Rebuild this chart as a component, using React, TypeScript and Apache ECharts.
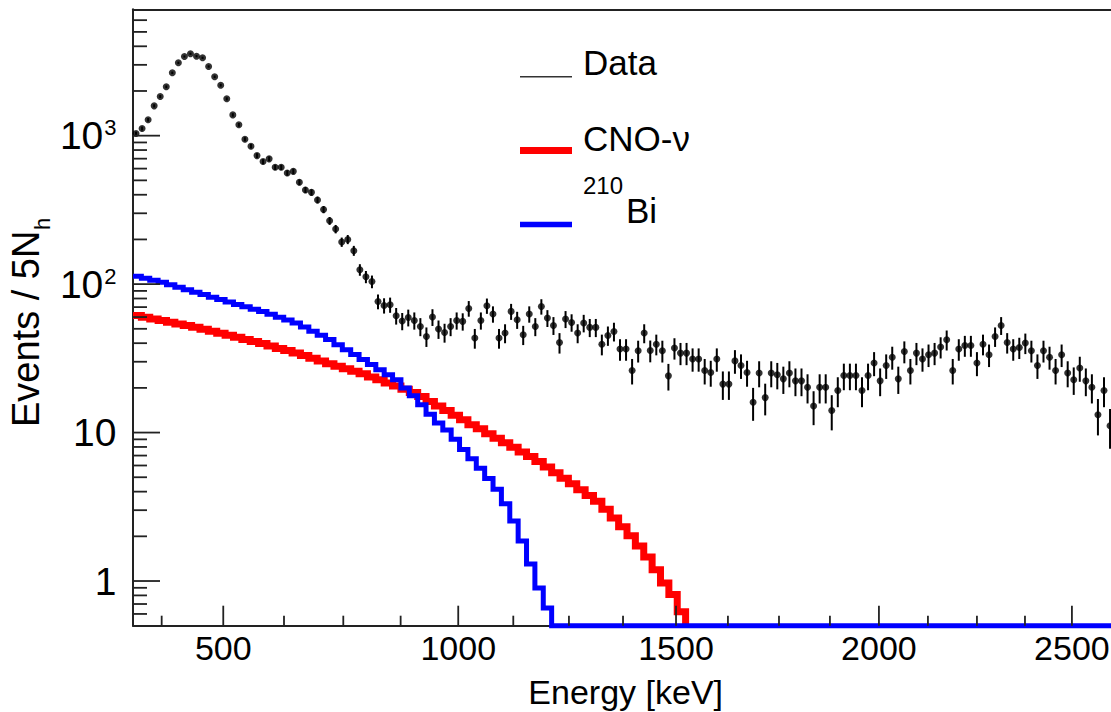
import React, { useEffect, useRef } from "react";
import * as echarts from "echarts";

const FONT = "'Liberation Sans', Arial, Helvetica, sans-serif";

// x axis: N_h (hits), histogram bins of 5 N_h; energy labels placed at their N_h positions
const NH_MIN = 92;
const NH_MAX = 900.3;
const DATA_BIN = 5;
const MODEL_BIN = 6.92;

const Y_MIN = 0.5;
const Y_MAX = 7100;

// Data: Events / 5 N_h (one value per bin, left to right)
const dataCounts = [
  1033, 1117, 1279, 1588, 1835, 2134, 2651, 3097, 3414, 3562,
  3430, 3347, 2924, 2493, 2188, 1771, 1380, 1183, 946, 849,
  734, 669, 698, 612, 612, 561, 575, 485, 431, 415,
  369, 318, 267, 235, 192, 200, 168, 125, 112, 104,
  76.4, 71.8, 72.6, 61.2, 56.4, 59.6, 56.9, 51.8, 44.4, 60,
  49.8, 47.2, 51.8, 56.9, 56.1, 68.6, 43.3, 56.9, 71.5, 62.9,
  43.3, 46.8, 65.5, 57.5, 45.6, 62.9, 51.8, 70.7, 59.1, 52.7,
  40.4, 58.2, 55.2, 46.8, 54.7, 51.1, 51.1, 39.4, 45.1, 48,
  36.5, 36.5, 26.2, 35.6, 46.8, 35.7, 39.4, 35.6, 24.1, 37.1,
  34.3, 34.3, 31.3, 31.3, 26.2, 25.4, 31.3, 21.2, 21.2, 30.4,
  28.3, 25.4, 16.0, 25.2, 17.2, 25.2, 24.5, 23.0, 25.2, 22.3,
  22.3, 20.2, 15.1, 20.2, 20.2, 14.1, 19.2, 24.2, 24.2, 24.2,
  19.2, 24.2, 29.4, 22.3, 28.3, 32.2, 23.0, 35.2, 26.2, 34.3,
  31.3, 33.4, 34.3, 37.7, 42.2, 26.2, 36.5, 38.6, 38.6, 29.4,
  39.4, 33.4, 44.4, 52.7, 40.4, 36.5, 37.4, 40.1, 35.6, 28.3,
  35.6, 32.2, 26.2, 33.4, 25.2, 22.7, 27.2, 22.3, 20.2, 13.2,
  19.2, 11.1,
];

// CNO-nu model histogram
const cnoValues = [
  61.4, 59.8, 58.3, 56.8, 55.4, 53.9, 52.6, 51.2, 49.6, 48.1,
  46.7, 45.2, 43.8, 42.4, 41.0, 39.8, 38.3, 36.9, 35.7, 34.4,
  33.0, 31.7, 30.4, 29.1, 28.0, 26.9, 25.9, 24.9, 23.7, 22.7,
  21.6, 20.6, 19.6, 18.6, 17.5, 16.2, 15.1, 14.1, 13.1, 12.2,
  11.3, 10.6, 9.8, 9.15, 8.54, 7.96, 7.41, 6.91, 6.38, 5.86,
  5.37, 4.93, 4.52, 4.12, 3.77, 3.44, 3.04, 2.66, 2.32, 2.02,
  1.72, 1.45, 1.19, 0.97, 0.81, 0.62,
];

// 210Bi model histogram
const biValues = [
  112.9, 109.4, 106.3, 103.0, 99.2, 95.4, 91.8, 88.3, 85.0, 81.7,
  78.7, 75.7, 73.0, 70.3, 67.7, 65.4, 62.6, 59.8, 57.3, 54.8,
  51.4, 48.2, 45.2, 42.3, 39.1, 36.2, 33.5, 31.0, 28.7, 26.5,
  24.5, 22.7, 20.0, 17.7, 15.4, 13.3, 11.6, 10.4, 9.0, 7.7,
  6.65, 5.74, 4.90, 4.15, 3.31, 2.54, 1.86, 1.30, 0.897, 0.658,
];

// Energy ticks (keV) and their N_h positions
const xTickEnergies = [375, 500, 625, 750, 875, 1000, 1125, 1250, 1375, 1500, 1625, 1750, 1875, 2000, 2125, 2250, 2375, 2500];
const xTickNh = [115.7, 166.6, 216.8, 265.8, 313.2, 360.8, 406.3, 452.3, 497, 540.8, 583.7, 625.9, 668, 708.5, 749, 789.5, 829.2, 868];
const xTickLabels = ["", "500", "", "", "", "1000", "", "", "", "1500", "", "", "", "2000", "", "", "", "2500"];

const yMajorTicks = [1, 10, 100, 1000];
const yMinorTicks = [
  0.6, 0.7, 0.8, 0.9,
  2, 3, 4, 5, 6, 7, 8, 9,
  20, 30, 40, 50, 60, 70, 80, 90,
  200, 300, 400, 500, 600, 700, 800, 900,
  2000, 3000, 4000, 5000, 6000,
];

const legendNames = ["Data", "CNO-\u03bd", "Bi"];

export default function App() {
  const ref = useRef<HTMLDivElement>(null);

  useEffect(() => {
    const chart = echarts.init(ref.current as HTMLDivElement, null, { renderer: "svg" });

    const dataPts = dataCounts.map((v, i) => [NH_MIN + DATA_BIN * (i + 0.5), v]);
    const errPts = dataCounts.map((v, i) => [
      NH_MIN + DATA_BIN * (i + 0.5),
      v,
      v - Math.sqrt(v),
      v + Math.sqrt(v),
    ]);
    const stepPts = (vals: number[], tail: boolean) => {
      const pts = vals.map((v, k) => [NH_MIN + k * MODEL_BIN, v]);
      pts.push([NH_MIN + vals.length * MODEL_BIN, Y_MIN]);
      if (tail) pts.push([NH_MAX, Y_MIN]);
      return pts;
    };

    const xTickData = xTickNh.map((nh, i) => [nh, Y_MIN, xTickLabels[i] ? 1 : 0, xTickEnergies[i]]);
    const yTickData = [
      ...yMajorTicks.map((v) => [NH_MIN, v, 1]),
      ...yMinorTicks.map((v) => [NH_MIN, v, 0]),
    ];

    const txt = (size: number) => ({ fontSize: size, fontFamily: FONT, fill: "#000" });
    const frameLine = { show: true, lineStyle: { color: "#222", width: 2 } };

    const option: any = {
      animation: false,
      backgroundColor: "#ffffff",
      grid: {
        left: 133,
        right: 0,
        top: 9.3,
        bottom: 86.3,
        show: false,
      },
      xAxis: [
        {
          type: "value",
          position: "bottom",
          min: NH_MIN,
          max: NH_MAX,
          axisLine: frameLine,
          axisTick: { show: false },
          axisLabel: { show: false },
          splitLine: { show: false },
        },
        {
          type: "value",
          position: "top",
          min: NH_MIN,
          max: NH_MAX,
          axisLine: frameLine,
          axisTick: { show: false },
          axisLabel: { show: false },
          splitLine: { show: false },
        },
      ],
      yAxis: {
        type: "log",
        logBase: 10,
        min: Y_MIN,
        max: Y_MAX,
        axisLine: frameLine,
        axisTick: { show: false },
        splitLine: { show: false },
        minorTick: { show: false },
        axisLabel: {
          margin: 16.5,
          showMinLabel: false,
          showMaxLabel: false,
          formatter: (v: number) => {
            const l = Math.log10(v);
            const e = Math.round(l);
            if (Math.abs(l - e) > 1e-6) return "";
            if (e === 0) return "{b|1}";
            if (e === 1) return "{b|10}";
            return "{b|10}{s|" + e + "}";
          },
          rich: {
            b: { fontSize: 39, fontFamily: FONT, color: "#000", lineHeight: 42 },
            s: { fontSize: 22, fontFamily: FONT, color: "#000", lineHeight: 42, verticalAlign: "top", padding: [2, 0, 0, 1] },
          },
        },
      },
      series: [
        {
          name: "CNO",
          type: "line",
          step: "end",
          data: stepPts(cnoValues, false),
          showSymbol: false,
          symbol: "none",
          clip: false,
          lineStyle: { color: "#ff0000", width: 7, join: "miter", cap: "butt" },
          z: 3,
          silent: true,
        },
        {
          name: "Bi",
          type: "line",
          step: "end",
          data: stepPts(biValues, true),
          showSymbol: false,
          symbol: "none",
          clip: false,
          lineStyle: { color: "#0000ff", width: 5, join: "miter", cap: "butt" },
          z: 4,
          silent: true,
        },
        {
          name: "errors",
          type: "custom",
          data: errPts,
          encode: { x: 0, y: 1 },
          clip: false,
          z: 5,
          silent: true,
          renderItem: (params: any, api: any) => {
            const x = api.value(0);
            const lo = api.coord([x, api.value(2)]);
            const hi = api.coord([x, api.value(3)]);
            return {
              type: "line",
              shape: { x1: lo[0], y1: lo[1], x2: hi[0], y2: hi[1] },
              style: { stroke: "#000", lineWidth: 2 },
            };
          },
        },
        {
          name: "Data",
          type: "scatter",
          data: dataPts,
          symbol: "circle",
          symbolSize: 7,
          itemStyle: { color: "#000" },
          z: 6,
          silent: true,
        },
        {
          name: "xticks",
          type: "custom",
          data: xTickData,
          encode: { x: 0, y: 1 },
          clip: false,
          z: 7,
          silent: true,
          renderItem: (params: any, api: any) => {
            const p = api.coord([api.value(0), Y_MIN]);
            const major = api.value(2) === 1;
            const len = major ? 20 : 10;
            const children: any[] = [
              {
                type: "line",
                shape: { x1: p[0], y1: p[1], x2: p[0], y2: p[1] - len },
                style: { stroke: "#222", lineWidth: 1.8 },
              },
            ];
            if (major) {
              children.push({
                type: "text",
                x: p[0],
                y: p[1] + 22.3,
                style: {
                  text: xTickLabels[params.dataIndex],
                  ...txt(34),
                  align: "center",
                  verticalAlign: "middle",
                },
              });
            }
            return { type: "group", children };
          },
        },
        {
          name: "yticks",
          type: "custom",
          data: yTickData,
          encode: { x: 0, y: 1 },
          clip: false,
          z: 7,
          silent: true,
          renderItem: (params: any, api: any) => {
            const p = api.coord([api.value(0), api.value(1)]);
            const len = api.value(2) === 1 ? 27 : 14;
            return {
              type: "line",
              shape: { x1: p[0], y1: p[1], x2: p[0] + len, y2: p[1] },
              style: { stroke: "#222", lineWidth: 1.8 },
            };
          },
        },
      ],
      graphic: [
        {
          type: "text",
          x: 625.7,
          y: 692,
          style: { text: "Energy [keV]", ...txt(34), align: "center", verticalAlign: "middle" },
        },
        {
          type: "text",
          x: 26,
          y: 427,
          rotation: Math.PI / 2,
          style: { text: "Events / 5N", ...txt(38), align: "left", verticalAlign: "middle" },
        },
        {
          type: "text",
          x: 42,
          y: 230,
          rotation: Math.PI / 2,
          style: { text: "h", ...txt(22), align: "left", verticalAlign: "middle" },
        },
        // legend
        {
          type: "line",
          shape: { x1: 520, y1: 76.7, x2: 572, y2: 76.7 },
          style: { stroke: "#333", lineWidth: 1.5 },
        },
        {
          type: "text",
          x: 583,
          y: 62,
          style: { text: legendNames[0], ...txt(35), align: "left", verticalAlign: "middle" },
        },
        {
          type: "line",
          shape: { x1: 520, y1: 150.5, x2: 572, y2: 150.5 },
          style: { stroke: "#ff0000", lineWidth: 7 },
        },
        {
          type: "text",
          x: 583,
          y: 138.3,
          style: { text: legendNames[1], ...txt(35), align: "left", verticalAlign: "middle" },
        },
        {
          type: "line",
          shape: { x1: 520, y1: 224.5, x2: 572, y2: 224.5 },
          style: { stroke: "#0000ff", lineWidth: 5.5 },
        },
        {
          type: "text",
          x: 583,
          y: 185,
          style: { text: "210", ...txt(24), align: "left", verticalAlign: "middle" },
        },
        {
          type: "text",
          x: 626,
          y: 210.7,
          style: { text: legendNames[2], ...txt(35), align: "left", verticalAlign: "middle" },
        },
      ],
    };

    chart.setOption(option);
    return () => chart.dispose();
  }, []);

  return (
    <div
      ref={ref}
      style={{ position: "fixed", left: 0, top: 0, width: 1111, height: 712, background: "#fff" }}
    />
  );
}
